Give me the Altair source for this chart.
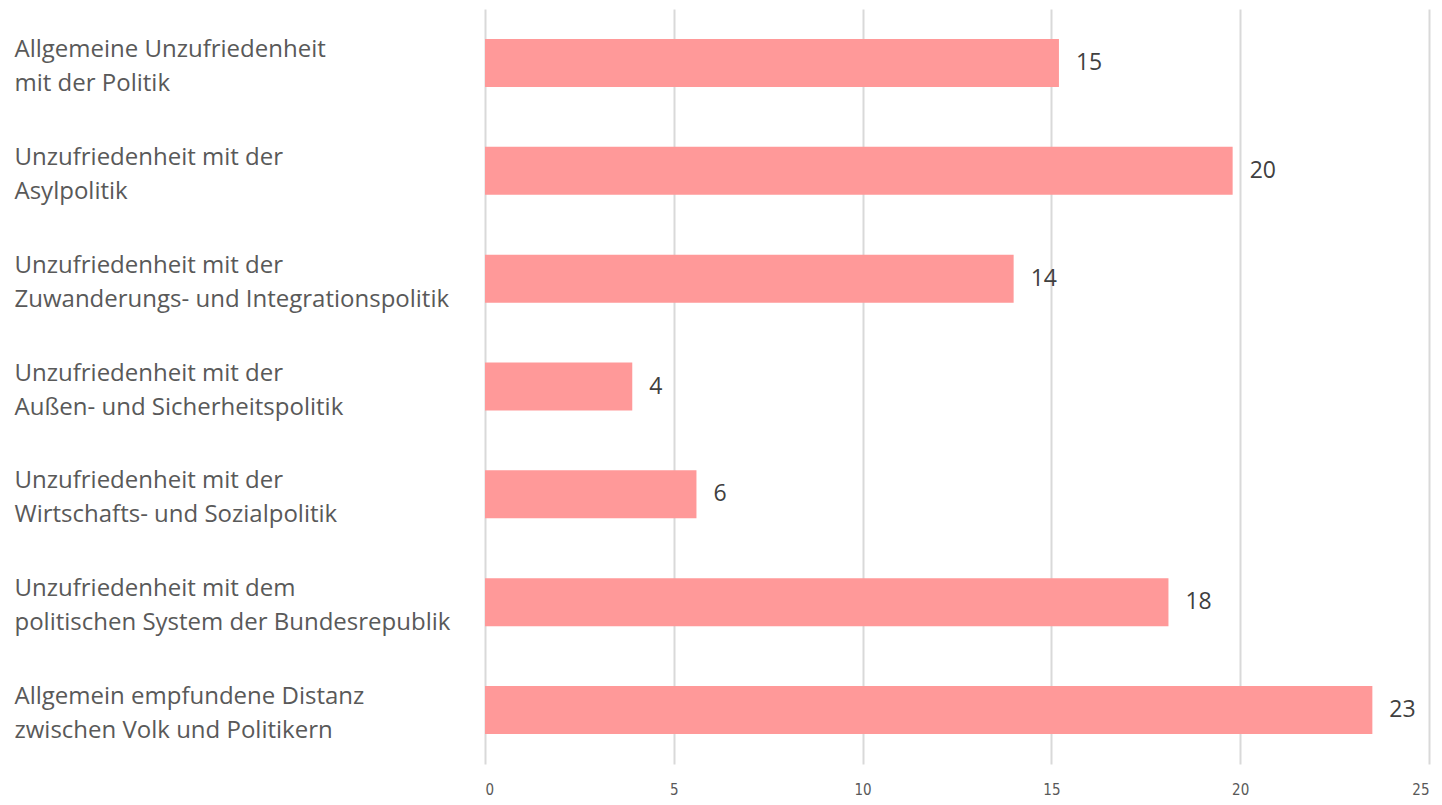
import altair as alt
import pandas as pd

categories = [
    "Allgemeine Unzufriedenheit\nmit der Politik",
    "Unzufriedenheit mit der\nAsylpolitik",
    "Unzufriedenheit mit der\nZuwanderungs- und Integrationspolitik",
    "Unzufriedenheit mit der\nAußen- und Sicherheitspolitik",
    "Unzufriedenheit mit der\nWirtschafts- und Sozialpolitik",
    "Unzufriedenheit mit dem\npolitischen System der Bundesrepublik",
    "Allgemein empfundene Distanz\nzwischen Volk und Politikern",
]
values = [15.2, 19.8, 14.0, 3.9, 5.6, 18.1, 23.5]
labels = ["15", "20", "14", "4", "6", "18", "23"]

df = pd.DataFrame({"cat": categories, "value": values, "label": labels})

FONT = "Open Sans"
NARROW = "Liberation Sans Narrow, DejaVu Sans Condensed, Open Sans"

y_enc = alt.Y(
    "cat:N",
    sort=categories,
    title=None,
    scale=alt.Scale(paddingInner=0.555, paddingOuter=0.2775),
    axis=alt.Axis(
        domain=False,
        ticks=False,
        grid=False,
        labelAlign="left",
        labelBaseline="middle",
        labelPadding=471,
        labelOffset=-13,
        labelFont=FONT,
        labelFontSize=24,
        labelColor="#595959",
        labelLineHeight=34,
        labelLimit=0,
        labelExpr="split(datum.label, '\\n')",
    ),
)

x_enc = alt.X(
    "value:Q",
    title=None,
    scale=alt.Scale(domain=[0, 25], nice=False),
    axis=alt.Axis(
        values=[0, 5, 10, 15, 20, 25],
        domain=False,
        ticks=False,
        grid=True,
        gridColor="#d9d9d9",
        gridWidth=2,
        labelFont=NARROW,
        labelFontSize=15,
        labelColor="#595959",
        labelPadding=18,
    ),
)

bars = alt.Chart(df).mark_bar(color="#ff9999").encode(x=x_enc, y=y_enc)

text = alt.Chart(df).mark_text(
    align="left", baseline="middle", dx=17, font=FONT, fontSize=23, color="#404040"
).encode(
    x=alt.X("value:Q"),
    y=alt.Y("cat:N", sort=categories),
    text="label:N",
)

chart = (
    alt.layer(bars, text)
    .properties(
        width=944,
        height=755,
        background="white",
        autosize=alt.AutoSizeParams(type="none"),
        padding={"left": 477, "top": 1, "right": 5, "bottom": 33},
    )
    .configure_view(strokeWidth=0)
    .configure_axis(domain=False)
)

chart.save("out.html", embed_options={"renderer": "svg", "actions": False})
